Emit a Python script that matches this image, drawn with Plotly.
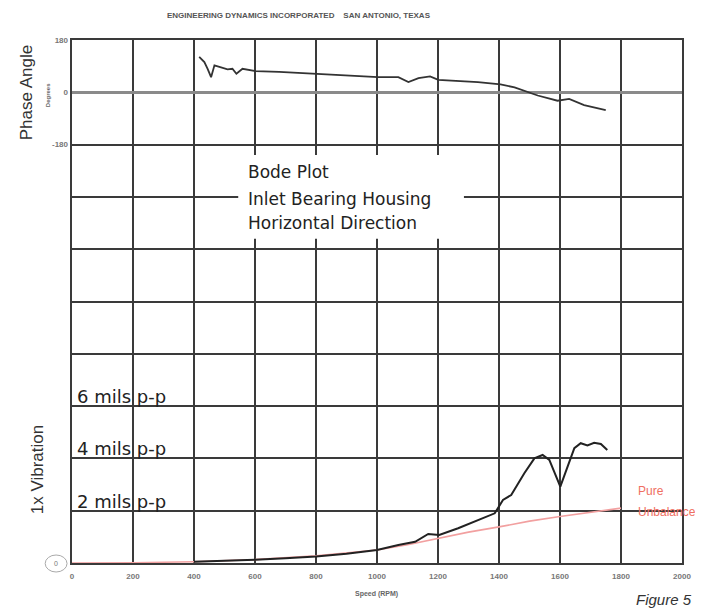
import plotly.graph_objects as go

# ---------------- data ----------------
speed_ticks = [0, 200, 400, 600, 800, 1000, 1200, 1400, 1600, 1800, 2000]

phase_rpm = [417, 425, 434, 445, 456, 467, 480, 494, 510, 526, 539, 559, 602, 679, 802, 896,
             1003, 1070, 1103, 1136, 1174, 1201, 1331, 1405, 1451, 1527, 1592, 1630, 1679, 1750]
phase_deg = [122, 112, 104, 80, 52, 93, 88, 85, 79, 81, 64, 81, 73, 70, 62, 58,
             52, 52, 35, 49, 55, 43, 35, 27, 17, -11, -29, -23, -44, -61]

vib_rpm = [400, 500, 600, 700, 800, 900, 1000, 1070, 1125, 1168, 1204, 1266, 1331, 1386, 1413,
           1440, 1483, 1516, 1543, 1565, 1601, 1625, 1647, 1668, 1690, 1712, 1734, 1755]
vib_mils = [0.05, 0.08, 0.12, 0.18, 0.25, 0.35, 0.5, 0.69, 0.81, 1.11, 1.07, 1.33, 1.64, 1.9, 2.41,
            2.6, 3.43, 4.0, 4.13, 3.94, 2.92, 3.68, 4.39, 4.58, 4.5, 4.6, 4.55, 4.32]

unb_rpm = [0, 200, 400, 600, 800, 1000, 1100, 1200, 1300, 1400, 1500, 1600, 1700, 1800]
unb_mils = [0, 0.01, 0.05, 0.13, 0.28, 0.5, 0.7, 0.95, 1.18, 1.38, 1.6, 1.78, 1.95, 2.1]

mils_labels = ["6 mils p-p", "4 mils p-p", "2 mils p-p"]
mils_levels = [6, 4, 2]
phase_tickvals = [180, 0, -180]
phase_ticktext = ["180", "0", "-180"]

# ---------------- figure ----------------
# the page body has an 8px margin, so the figure is drawn 8px in from the window edge
OFF = 8
W, H = 703 - OFF, 613 - OFF
L, R, T, B = 72 - OFF, 17, 40 - OFF, 50
pw, ph = W - L - R, H - T - B


def px(x):
    return (x - OFF - L) / pw


def py(y):
    return (H - B - (y - OFF)) / ph


fig = go.Figure()

fig.add_trace(go.Scatter(x=unb_rpm, y=unb_mils, mode="lines", yaxis="y",
                         line=dict(color="#f2a0a0", width=1.6), hoverinfo="skip"))
fig.add_trace(go.Scatter(x=vib_rpm, y=vib_mils, mode="lines", yaxis="y",
                         line=dict(color="#222222", width=2), hoverinfo="skip"))
fig.add_trace(go.Scatter(x=phase_rpm, y=phase_deg, mode="lines", yaxis="y2",
                         line=dict(color="#333333", width=1.8), hoverinfo="skip"))

grid_col = "#3a3a3a"
tickfont = dict(family="Liberation Sans, Arial", size=8, color="#777777", weight="bold")

fig.update_layout(
    width=W, height=H,
    margin=dict(l=L, r=R, t=T, b=B),
    paper_bgcolor="white", plot_bgcolor="white",
    showlegend=False,
    xaxis=dict(range=[0, 2000], tickvals=speed_ticks, showgrid=True, gridcolor=grid_col,
               gridwidth=2, showline=True, linecolor=grid_col, linewidth=2, mirror=True,
               zeroline=False, ticks="", tickfont=tickfont, ticklabelstandoff=4),
    yaxis=dict(range=[0, 20], dtick=2, showgrid=True, gridcolor=grid_col, gridwidth=2,
               showline=True, linecolor=grid_col, linewidth=2, mirror=True,
               zeroline=False, showticklabels=False, ticks=""),
    yaxis2=dict(range=[-1620, 180], overlaying="y", side="left", tickvals=phase_tickvals,
                ticktext=phase_ticktext, showgrid=False, zeroline=True, zerolinecolor="#8a8a8a",
                zerolinewidth=3, tickfont=tickfont, ticks="", showline=False,
                ticklabelstandoff=3),
)

# white box behind the Bode plot caption
fig.add_shape(type="rect", xref="x", yref="y", x0=545, x1=1285, y0=12.4, y1=15.6,
              fillcolor="white", line=dict(width=0), layer="above")

caption_font = dict(family="DejaVu Sans", size=17, color="#222222")
for txt, yv in [("Bode Plot", 14.95), ("Inlet Bearing Housing", 13.92), ("Horizontal Direction", 13.0)]:
    fig.add_annotation(x=570, y=yv, xref="x", yref="y", text=txt, showarrow=False,
                       xanchor="left", yanchor="middle", font=caption_font)

for txt, lv in zip(mils_labels, mils_levels):
    fig.add_annotation(x=px(75), y=lv, xref="paper", yref="y", text=txt, showarrow=False,
                       xanchor="left", yanchor="bottom", yshift=-3,
                       font=dict(family="DejaVu Sans", size=18, color="#222222"))

fig.add_annotation(x=px(640), y=2.75, xref="paper", yref="y", text="Pure", showarrow=False,
                   xanchor="left", yanchor="middle",
                   font=dict(family="Liberation Sans, Arial", size=12, color="#ef6f62"))
fig.add_annotation(x=px(640), y=1.95, xref="paper", yref="y", text="Unbalance", showarrow=False,
                   xanchor="left", yanchor="middle",
                   font=dict(family="Liberation Sans, Arial", size=12, color="#ef6f62"))

fig.add_annotation(x=px(300), y=py(16), xref="paper", yref="paper",
                   text="ENGINEERING DYNAMICS INCORPORATED &nbsp;&nbsp; SAN ANTONIO, TEXAS",
                   showarrow=False, xanchor="center", yanchor="middle",
                   font=dict(family="Liberation Sans, Arial", size=8, color="#555555", weight="bold"))

fig.add_annotation(x=px(26), y=py(93), xref="paper", yref="paper", text="Phase Angle",
                   showarrow=False, textangle=-90, xanchor="center", yanchor="middle",
                   font=dict(family="Liberation Sans, Arial", size=17, color="#333333"))
fig.add_annotation(x=px(48), y=py(95), xref="paper", yref="paper", text="Degrees",
                   showarrow=False, textangle=-90, xanchor="center", yanchor="middle",
                   font=dict(family="Liberation Sans, Arial", size=6, color="#666666", weight="bold"))
fig.add_annotation(x=px(37), y=py(470), xref="paper", yref="paper", text="1x Vibration",
                   showarrow=False, textangle=-90, xanchor="center", yanchor="middle",
                   font=dict(family="Liberation Sans, Arial", size=17, color="#333333"))

# circled zero
fig.add_shape(type="circle", xref="paper", yref="paper", x0=px(45), x1=px(67), y0=py(572), y1=py(555),
              line=dict(color="#aaaaaa", width=1))
fig.add_annotation(x=px(56), y=py(563), xref="paper", yref="paper", text="0", showarrow=False,
                   xanchor="center", yanchor="middle",
                   font=dict(family="Liberation Sans, Arial", size=7, color="#777777"))

fig.add_annotation(x=px(378), y=py(594), xref="paper", yref="paper", text="Speed (RPM)",
                   showarrow=False, xanchor="center", yanchor="middle",
                   font=dict(family="Liberation Sans, Arial", size=7, color="#666666", weight="bold"))
fig.add_annotation(x=px(698), y=py(599), xref="paper", yref="paper", text="Figure 5",
                   showarrow=False, xanchor="right", yanchor="middle",
                   font=dict(family="Liberation Sans Narrow, Liberation Sans, Arial", size=15,
                             color="#333333", style="italic"))

fig.write_html("out.html")
